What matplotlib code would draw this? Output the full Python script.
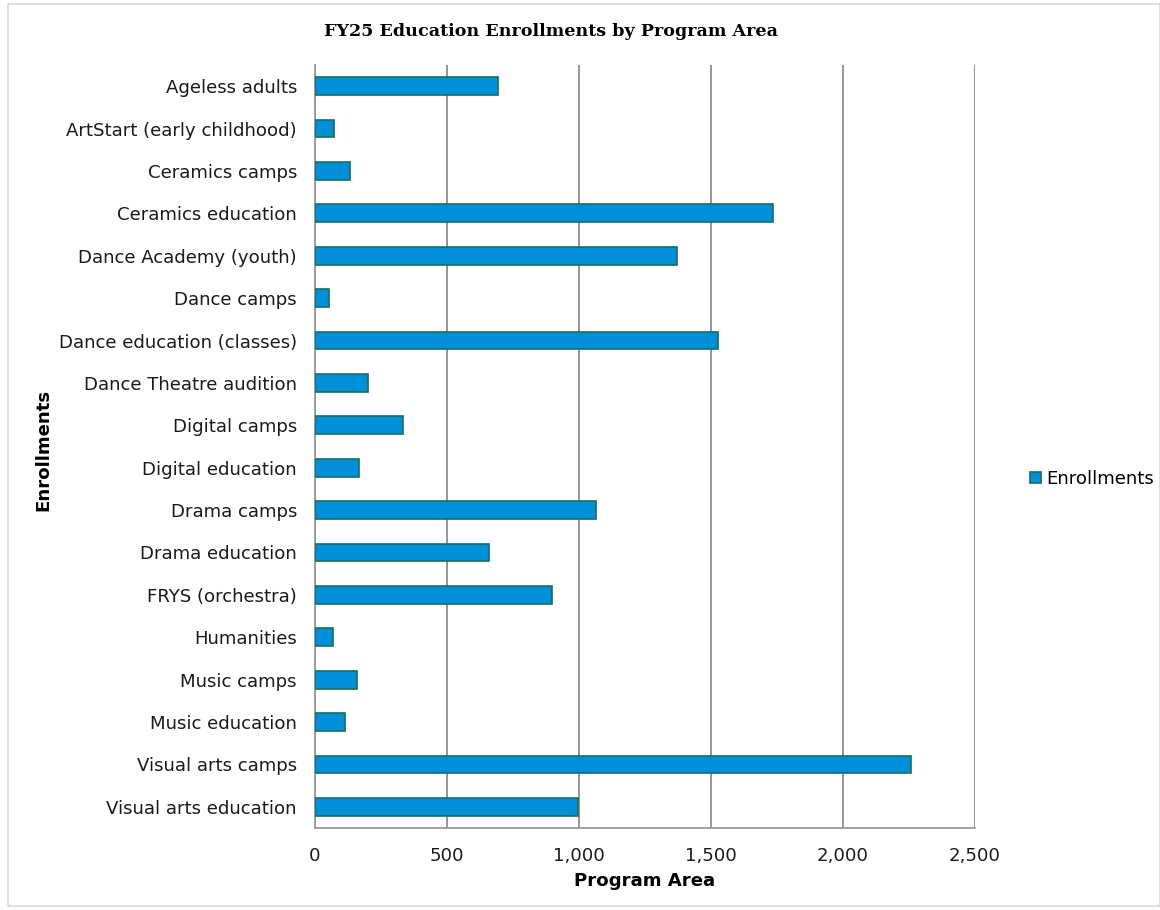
import matplotlib
matplotlib.use("Agg")
import matplotlib.pyplot as plt
from matplotlib.patches import Rectangle
from matplotlib.ticker import FuncFormatter

categories = [
    "Ageless adults", "ArtStart (early childhood)", "Ceramics camps",
    "Ceramics education", "Dance Academy (youth)", "Dance camps",
    "Dance education (classes)", "Dance Theatre audition", "Digital camps",
    "Digital education", "Drama camps", "Drama education", "FRYS (orchestra)",
    "Humanities", "Music camps", "Music education", "Visual arts camps",
    "Visual arts education",
]
enrollments = [693, 71, 134, 1736, 1371, 52, 1528, 201, 333, 167, 1064, 660,
               898, 68, 158, 114, 2259, 998]
x_ticks = [0, 500, 1000, 1500, 2000, 2500]

FS = 13.1
fig = plt.figure(figsize=(11.6, 9.1), dpi=100)
W, H = 1160, 910
ax = fig.add_axes([315 / W, 1 - 828 / H, (975 - 315) / W, (828 - 65) / H])

y = list(range(len(categories)))
ax.barh(y, enrollments, height=0.42, color="#008FD9", edgecolor="#17705F",
        linewidth=1.2, label="Enrollments", zorder=3)
ax.set_ylim(len(categories) - 0.5, -0.5)
ax.set_yticks(y)
ax.set_yticklabels(categories, fontsize=FS, color="#1a1a1a")
ax.set_xlim(0, 2500)
ax.set_xticks(x_ticks)
ax.xaxis.set_major_formatter(FuncFormatter(lambda v, p: f"{int(v):,}"))
ax.tick_params(axis="x", labelsize=FS, length=0, pad=14, colors="#1a1a1a")
ax.tick_params(axis="y", length=0, pad=13)
ax.grid(axis="x", color="#8c8c8c", linewidth=1.3, zorder=0)
for s in ["top", "right"]:
    ax.spines[s].set_visible(False)
for s in ["left", "bottom"]:
    ax.spines[s].set_color("#9a9a9a")
    ax.spines[s].set_linewidth(1.3)

fig.text(43 / W, 1 - 450 / H, "Enrollments", rotation=90, fontsize=FS,
         fontweight="bold", ha="center", va="center")
fig.text(645 / W, 1 - 881 / H, "Program Area", fontsize=FS,
         fontweight="bold", ha="center", va="center")
fig.text(551 / W, 1 - 31 / H, "FY25 Education Enrollments by Program Area",
         fontsize=12.6, fontweight="bold", family="DejaVu Serif",
         ha="center", va="center")

leg = fig.legend(loc="center left", bbox_to_anchor=(1014 / W, 1 - 479 / H),
                 frameon=False, fontsize=FS, handlelength=0.6,
                 handleheight=0.6, handletextpad=0.3)

fig.patches.append(Rectangle((8 / W, 4 / H), 1 - 8 / W, 1 - 8 / H,
                             transform=fig.transFigure, fill=False,
                             edgecolor="#d9d9d9", linewidth=1.2))

fig.savefig("out.png", dpi=100)
